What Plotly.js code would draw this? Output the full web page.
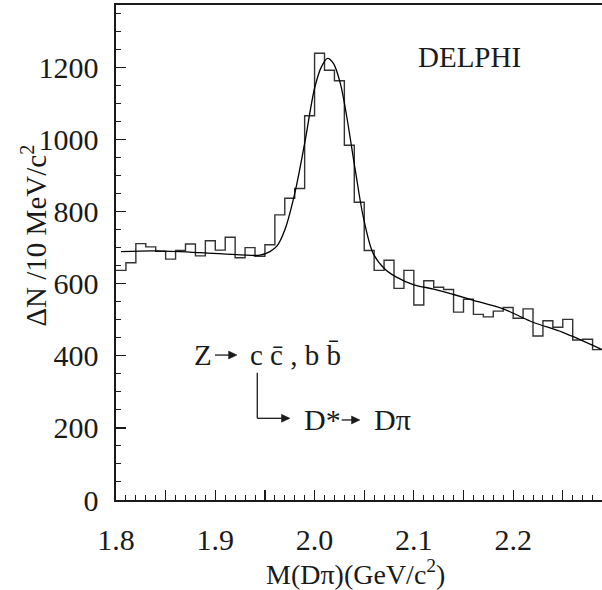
<!DOCTYPE html>
<html>
<head>
<meta charset="utf-8">
<script src="https://cdn.plot.ly/plotly-3.0.1.min.js"></script>
<style>html,body{margin:0;padding:0;background:#fff;}</style>
</head>
<body>
<div id="chart" style="width:602px;height:590px;"></div>
<script>
// Histogram: bins of 10 MeV starting at 1.80 GeV
var binStart = 1.80;
var binWidth = 0.01;
var counts = [637, 658, 711, 702, 690, 668, 692, 710, 677, 719,
              693, 729, 672, 700, 676, 708, 791, 837, 864, 1066,
              1239, 1192, 1163, 984, 826, 692, 637, 665, 587, 637,
              541, 608, 590, 584, 521, 557, 515, 508, 524, 534,
              504, 530, 455, 497, 479, 501, 444, 446, 417];

// Fit curve
var fitX = [1.805, 1.84, 1.885, 1.925, 1.945, 1.955, 1.962, 1.970, 1.980, 1.990,
            2.000, 2.007, 2.013, 2.019, 2.026, 2.032, 2.041, 2.049, 2.059, 2.071,
            2.082, 2.100, 2.120, 2.140, 2.160, 2.190, 2.220, 2.250, 2.289];
var fitY = [689, 691, 686, 680, 679, 689, 704, 749, 850, 989,
            1142, 1202, 1225, 1211, 1155, 1070, 915, 786, 684, 640,
            619, 597, 585, 570, 554, 530, 493, 465, 418];

var xTickVals = [1.8, 1.9, 2.0, 2.1, 2.2];
var xTickText = ['1.8', '1.9', '2.0', '2.1', '2.2'];
var xMidTickVals = [1.85, 1.95, 2.05, 2.15, 2.25];
var yTickVals = [0, 200, 400, 600, 800, 1000, 1200];

var edgesX = [], stepY = [];
for (var i = 0; i < counts.length; i++) {
  edgesX.push(binStart + i * binWidth);
  stepY.push(counts[i]);
}
edgesX.push(binStart + counts.length * binWidth);
stepY.push(counts[counts.length - 1]);

var serif = '"Liberation Serif", "Times New Roman", serif';
var ink = '#1a1a1a';
var fs = 30;

var traces = [
  {x: edgesX, y: stepY, type: 'scatter', mode: 'lines',
   line: {shape: 'hv', color: '#333', width: 1.4}, hoverinfo: 'skip'},
  {x: fitX, y: fitY, type: 'scatter', mode: 'lines',
   line: {shape: 'spline', smoothing: 0.9, color: '#000', width: 1.3}, hoverinfo: 'skip'},
  {x: [2.0], y: [-100], xaxis: 'x2', yaxis: 'y', type: 'scatter', mode: 'lines',
   hoverinfo: 'skip', showlegend: false}
];

// arrow helper: horizontal arrow (layout decoration, data-space anchors)
function arrow(x0, x1, y) {
  var hx = 0.0085, hy = 11;
  return [
    {type: 'line', xref: 'x', yref: 'y', x0: x0, x1: x1 - hx * 0.6, y0: y, y1: y,
     line: {color: ink, width: 1.3}},
    {type: 'path', xref: 'x', yref: 'y',
     path: 'M' + x1 + ',' + y + ' L' + (x1 - hx) + ',' + (y + hy) + ' L' + (x1 - hx) + ',' + (y - hy) + ' Z',
     fillcolor: ink, line: {color: ink, width: 0.5}}
  ];
}

var shapes = [
  {type: 'line', xref: 'x', yref: 'y', x0: 1.9423, x1: 1.9423, y0: 353, y1: 226.6,
   line: {color: ink, width: 1.3}}
].concat(arrow(1.8997, 1.9219, 402))
 .concat(arrow(1.9423, 1.9752, 226.6))
 .concat(arrow(2.0273, 2.0457, 222));

var layout = {
  width: 602, height: 590,
  margin: {l: 116, r: 0, t: 5, b: 90, pad: 0},
  paper_bgcolor: '#fff', plot_bgcolor: '#fff',
  showlegend: false,
  font: {family: serif, color: ink, size: fs},
  xaxis: {
    range: [1.8, 2.2895], showgrid: false, zeroline: false,
    showline: true, linecolor: ink, linewidth: 1.6, mirror: true,
    ticks: 'inside', tickvals: xTickVals, ticktext: xTickText,
    ticklen: 10, tickwidth: 1.2, tickcolor: ink,
    minor: {dtick: 0.01, tick0: 1.8, ticks: 'inside', ticklen: 5, tickwidth: 1, tickcolor: ink, showgrid: false},
    tickfont: {family: serif, size: fs, color: ink},
    ticklabelstandoff: 12
  },
  xaxis2: {
    overlaying: 'x', anchor: 'y', side: 'bottom',
    range: [1.8, 2.2895], showgrid: false, zeroline: false, showline: false,
    ticks: 'inside', tickvals: xMidTickVals, ticklen: 10, tickwidth: 1.2, tickcolor: ink,
    showticklabels: false
  },
  yaxis: {
    range: [0, 1373], showgrid: false, zeroline: false,
    showline: true, linecolor: ink, linewidth: 1.6, mirror: false,
    ticks: 'inside', tickvals: yTickVals,
    ticklen: 10, tickwidth: 1.2, tickcolor: ink,
    minor: {dtick: 50, tick0: 0, ticks: 'inside', ticklen: 5, tickwidth: 1, tickcolor: ink, showgrid: false},
    tickfont: {family: serif, size: fs, color: ink},
    ticklabelstandoff: 10
  },
  shapes: shapes,
  annotations: [
    {text: 'DELPHI', xref: 'x', yref: 'y', x: 2.1565, y: 1228, showarrow: false,
     xanchor: 'center', yanchor: 'middle', font: {family: serif, size: 29, color: ink}},
    {text: 'Z', xref: 'x', yref: 'y', x: 1.8876, y: 402, showarrow: false,
     xanchor: 'center', yanchor: 'middle', font: {family: serif, size: 29, color: ink}},
    {text: 'c c\u0304 , b b\u0304', xref: 'x', yref: 'y', x: 1.9329, y: 402, showarrow: false,
     xanchor: 'left', yanchor: 'middle', font: {family: serif, size: 29, color: ink}},
    {text: 'D*', xref: 'x', yref: 'y', x: 1.987, y: 222, showarrow: false,
     xanchor: 'left', yanchor: 'middle', font: {family: serif, size: 30, color: ink}},
    {text: 'D\u03c0', xref: 'x', yref: 'y', x: 2.0575, y: 222, showarrow: false,
     xanchor: 'left', yanchor: 'middle', font: {family: serif, size: 30, color: ink}},
    {text: '\u0394N /10 MeV/c<sup>2</sup>', xref: 'paper', yref: 'paper', x: -0.168, y: 0.535,
     textangle: -90, showarrow: false, xanchor: 'center', yanchor: 'middle',
     font: {family: serif, size: 29, color: ink}},
    {text: 'M(D\u03c0)(GeV/c<sup>2</sup>)', xref: 'paper', yref: 'paper', x: 0.4938, y: -0.147,
     showarrow: false, xanchor: 'center', yanchor: 'middle',
     font: {family: serif, size: 28, color: ink}}
  ]
};

Plotly.newPlot('chart', traces, layout, {staticPlot: true, displayModeBar: false});
</script>
</body>
</html>
